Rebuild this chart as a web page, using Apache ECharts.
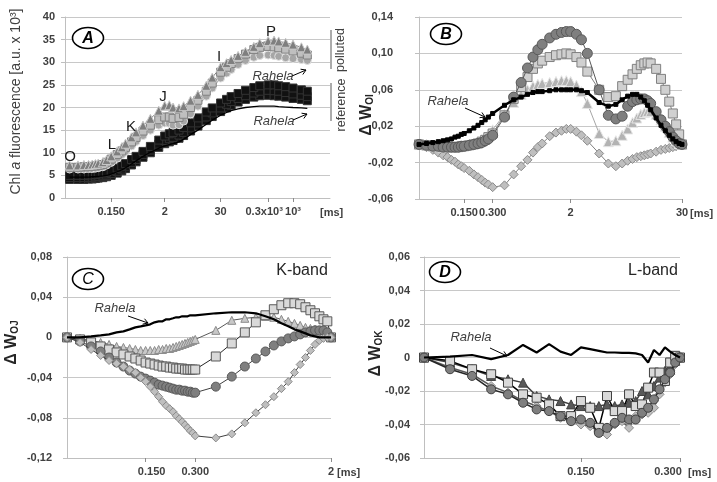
<!DOCTYPE html>
<html><head><meta charset="utf-8">
<script src="https://cdn.jsdelivr.net/npm/echarts@6/dist/echarts.min.js"></script>
<style>html,body{margin:0;padding:0;background:#fff}#c{width:717px;height:482px}</style>
</head><body><div id="c"></div>
<script>
// ---------- Panel A: OJIP transients (time in ms) ----------
const tA = [0.02,0.03,0.04,0.05,0.06,0.07,0.08,0.1,0.12,0.15,0.2,0.25,0.3,0.4,0.5,0.7,1,1.5,2,2.5,3,4,5,7,10,15,20,30,40,50,70,100,150,200,300,400,500,700,1000,1500,2000];
const aPolTriangle = [7.2,7.2,7.3,7.3,7.4,7.5,7.6,7.9,8.4,9.2,10.3,11.2,12.0,13.4,14.5,16.0,17.5,19.3,20.4,20.5,20.0,19.8,20.3,21.5,22.8,24.8,26.6,28.9,29.8,30.5,31.4,32.3,33.4,34.2,34.7,34.8,34.6,34.3,33.9,33.3,32.8];
const aPolSquare = [6.8,6.8,6.9,6.9,7.0,7.1,7.2,7.4,7.9,8.6,9.6,10.4,11.2,12.4,13.4,14.8,16.1,17.3,17.9,17.9,17.6,17.8,18.5,20.0,21.6,23.6,25.4,27.8,28.9,29.7,30.8,31.8,32.8,33.3,33.5,33.4,33.2,32.9,32.5,32.0,31.6];
const aPolCircle = [6.4,6.4,6.4,6.5,6.5,6.6,6.7,6.9,7.3,7.9,8.8,9.6,10.3,11.5,12.5,13.8,15.0,16.1,16.6,16.5,16.1,16.2,17.0,18.6,20.3,22.5,24.3,26.5,27.6,28.4,29.5,30.4,31.1,31.5,31.6,31.5,31.3,31.0,30.8,30.6,30.4];
const aRef1 = [5.0,5.0,5.0,5.1,5.1,5.2,5.3,5.5,5.7,6.0,6.6,7.1,7.6,8.5,9.2,10.3,11.4,12.8,13.7,14.2,14.5,15.0,15.6,16.6,17.7,19.0,19.9,21.0,21.8,22.4,23.1,23.8,24.4,24.8,25.0,25.0,24.8,24.6,24.3,23.9,23.6];
const aRef2 = [4.5,4.5,4.5,4.6,4.6,4.7,4.8,4.9,5.1,5.4,5.9,6.4,6.9,7.8,8.5,9.6,10.6,11.9,12.7,13.1,13.4,13.9,14.5,15.5,16.6,17.9,18.8,19.9,20.7,21.3,22.0,22.6,23.2,23.6,23.8,23.7,23.6,23.3,23.0,22.7,22.4];
const aRef3 = [4.1,4.1,4.1,4.2,4.2,4.3,4.4,4.5,4.7,5.0,5.5,6.0,6.5,7.3,8.0,9.0,10.0,11.2,12.0,12.4,12.7,13.2,13.8,14.8,15.9,17.1,18.0,19.1,19.9,20.5,21.2,21.8,22.3,22.6,22.7,22.6,22.5,22.3,22.0,21.8,21.5];
const aRefRahela = [4.6,4.6,4.6,4.6,4.7,4.7,4.8,4.9,5.0,5.3,5.8,6.2,6.7,7.5,8.2,9.2,10.1,11.0,11.5,11.8,12.0,12.4,13.0,14.0,15.0,16.3,17.2,18.3,18.9,19.3,19.7,20.0,20.2,20.3,20.3,20.3,20.2,20.1,20.0,19.9,19.8];
const xTicksA = [0.15, 2, 30, 300, 1000];
const xTextA = ['0.150', '2', '30', '0.3x10³', '10³'];
const phaseLetters = ['O', 'L', 'K', 'J', 'I', 'P'];

// ---------- Panel B: ΔW_OI ----------
const tB = [0.05,0.06,0.07,0.08,0.09,0.1,0.11,0.12,0.13,0.14,0.15,0.17,0.19,0.21,0.23,0.25,0.27,0.3,0.4,0.5,0.6,0.7,0.8,0.9,1,1.2,1.4,1.6,1.8,2,2.3,2.6,3,4,5,6,7,8,9,10,11,12,13,14,16,18,20,22,24,26,28,30];
const bRahela = [0,0.001,0.002,0.003,0.004,0.005,0.006,0.008,0.009,0.011,0.012,0.015,0.018,0.021,0.024,0.027,0.030,0.034,0.043,0.049,0.052,0.055,0.057,0.058,0.058,0.059,0.060,0.060,0.060,0.060,0.060,0.059,0.057,0.046,0.042,0.044,0.049,0.053,0.055,0.055,0.052,0.048,0.043,0.038,0.029,0.021,0.015,0.010,0.006,0.003,0.001,0];
const bCircle = [0,-0.001,-0.002,-0.002,-0.003,-0.003,-0.003,-0.003,-0.003,-0.002,-0.002,-0.001,0,0.001,0.002,0.004,0.006,0.010,0.030,0.052,0.068,0.084,0.096,0.104,0.110,0.117,0.121,0.123,0.124,0.124,0.121,0.115,0.100,0.060,0.032,0.028,0.031,0.042,0.047,0.049,0.050,0.050,0.048,0.045,0.036,0.027,0.020,0.014,0.008,0.004,0.001,0];
const bSquare = [0,-0.001,-0.002,-0.002,-0.003,-0.003,-0.003,-0.003,-0.003,-0.002,-0.002,-0.001,0,0.001,0.003,0.005,0.008,0.012,0.032,0.050,0.063,0.074,0.083,0.089,0.092,0.096,0.098,0.099,0.100,0.099,0.096,0.090,0.080,0.060,0.052,0.053,0.064,0.071,0.077,0.083,0.087,0.089,0.090,0.089,0.083,0.072,0.060,0.047,0.034,0.022,0.011,0];
const bTriangle = [0,-0.001,-0.002,-0.002,-0.003,-0.003,-0.003,-0.003,-0.002,-0.002,-0.001,0,0.001,0.003,0.005,0.008,0.011,0.016,0.033,0.046,0.055,0.060,0.064,0.066,0.067,0.068,0.069,0.070,0.070,0.069,0.065,0.058,0.045,0.012,0.003,0.004,0.010,0.017,0.024,0.029,0.033,0.035,0.036,0.036,0.033,0.027,0.020,0.013,0.008,0.004,0.001,0];
const bDiamond = [0,-0.003,-0.006,-0.009,-0.012,-0.014,-0.017,-0.019,-0.022,-0.024,-0.026,-0.029,-0.033,-0.036,-0.039,-0.042,-0.044,-0.047,-0.045,-0.033,-0.024,-0.017,-0.009,-0.003,0.001,0.009,0.013,0.015,0.017,0.017,0.014,0.010,0.004,-0.010,-0.021,-0.024,-0.021,-0.018,-0.016,-0.014,-0.013,-0.012,-0.011,-0.010,-0.008,-0.006,-0.005,-0.004,-0.003,-0.002,-0.001,0];
const xTicksB = [0.15, 0.3, 2, 30];
const xTextB = ['0.150', '0.300', '2', '30'];

// ---------- Panel C: ΔW_OJ (K-band) ----------
const tC = [0.05,0.06,0.07,0.08,0.09,0.1,0.11,0.12,0.13,0.14,0.15,0.16,0.17,0.18,0.19,0.2,0.21,0.22,0.23,0.24,0.25,0.26,0.27,0.28,0.29,0.3,0.4,0.5,0.6,0.7,0.8,0.9,1,1.1,1.2,1.3,1.4,1.5,1.6,1.7,1.8,1.9,2];
const cRahela = [0,0,0.001,0.002,0.003,0.005,0.006,0.008,0.010,0.011,0.012,0.013,0.015,0.016,0.016,0.018,0.018,0.019,0.020,0.020,0.021,0.021,0.021,0.022,0.022,0.022,0.024,0.025,0.025,0.024,0.021,0.018,0.014,0.011,0.008,0.006,0.004,0.002,0.001,0,0,0,0];
const cCircle = [0,-0.004,-0.009,-0.014,-0.020,-0.025,-0.029,-0.033,-0.036,-0.039,-0.041,-0.043,-0.045,-0.047,-0.048,-0.049,-0.050,-0.051,-0.052,-0.052,-0.053,-0.053,-0.054,-0.054,-0.055,-0.055,-0.049,-0.039,-0.029,-0.021,-0.014,-0.008,-0.004,-0.001,0.001,0.003,0.005,0.006,0.007,0.007,0.007,0.005,0];
const cSquare = [0,-0.002,-0.005,-0.009,-0.012,-0.015,-0.017,-0.019,-0.021,-0.023,-0.025,-0.026,-0.027,-0.028,-0.029,-0.029,-0.030,-0.030,-0.031,-0.031,-0.031,-0.032,-0.032,-0.032,-0.032,-0.032,-0.019,-0.006,0.005,0.015,0.022,0.028,0.032,0.034,0.034,0.033,0.030,0.027,0.024,0.021,0.018,0.016,0];
const cTriangle = [0,-0.001,-0.003,-0.005,-0.007,-0.009,-0.010,-0.011,-0.012,-0.013,-0.013,-0.013,-0.013,-0.012,-0.012,-0.011,-0.011,-0.010,-0.009,-0.008,-0.007,-0.006,-0.005,-0.004,-0.003,-0.002,0.007,0.017,0.019,0.020,0.021,0.020,0.018,0.016,0.014,0.012,0.010,0.009,0.008,0.006,0.004,0.002,0];
const cDiamond = [0,-0.005,-0.012,-0.018,-0.023,-0.026,-0.029,-0.032,-0.035,-0.040,-0.044,-0.049,-0.054,-0.059,-0.064,-0.068,-0.071,-0.074,-0.078,-0.081,-0.084,-0.087,-0.090,-0.093,-0.095,-0.098,-0.100,-0.096,-0.085,-0.075,-0.067,-0.059,-0.051,-0.044,-0.035,-0.027,-0.020,-0.013,-0.007,-0.003,-0.001,0,0];
const xTicksC = [0.15, 0.3, 2];
const xTextC = ['0.150', '0.300', '2'];

// ---------- Panel D: ΔW_OK (L-band) ----------
const tD = [0.05,0.06,0.07,0.08,0.09,0.1,0.11,0.12,0.13,0.14,0.15,0.16,0.17,0.18,0.19,0.2,0.21,0.22,0.23,0.24,0.25,0.26,0.27,0.28,0.29,0.3];
const dRahela = [0,0.0005,0.0015,-0.001,0.0015,0.0075,0.003,0.008,0.0035,0.0015,0.006,0.005,0.004,0.003,0.003,0.0028,0.0028,0.0025,0.0015,-0.003,0.0045,0.0015,0.006,0.0035,0.0015,0];
const dCircle = [0,-0.007,-0.011,-0.019,-0.022,-0.027,-0.031,-0.032,-0.035,-0.038,-0.037,-0.039,-0.045,-0.042,-0.039,-0.036,-0.037,-0.037,-0.033,-0.030,-0.025,-0.019,-0.013,-0.009,-0.003,0];
const dSquare = [0,-0.002,-0.007,-0.010,-0.015,-0.022,-0.024,-0.028,-0.035,-0.035,-0.026,-0.030,-0.042,-0.023,-0.032,-0.032,-0.022,-0.029,-0.028,-0.018,-0.009,-0.009,-0.014,-0.003,0.001,0];
const dTriangle = [0,-0.003,-0.007,-0.011,-0.013,-0.015,-0.023,-0.025,-0.026,-0.028,-0.029,-0.029,-0.029,-0.028,-0.029,-0.028,-0.027,-0.026,-0.020,-0.022,-0.017,-0.012,-0.008,-0.005,-0.002,0];
const dDiamond = [0,-0.006,-0.010,-0.017,-0.021,-0.026,-0.029,-0.032,-0.036,-0.038,-0.040,-0.041,-0.044,-0.046,-0.040,-0.038,-0.042,-0.035,-0.034,-0.033,-0.030,-0.022,-0.015,-0.010,-0.004,0];
const xTicksD = [0.15, 0.3];
const xTextD = ['0.150', '0.300'];

// ---------- build ----------
const FONT = 'Liberation Sans, Arial, sans-serif';
const LBL = {fontFamily: FONT, fontSize: 11, fontWeight: 'bold', color: '#404040'};
const pts = (t, v) => t.map((x, i) => [x, v[i]]);

function S(g, t, v, sym, size, fill, border, lineColor, lineWidth, z) {
  return {
    type: 'line', xAxisIndex: g, yAxisIndex: g, data: pts(t, v),
    symbol: sym, symbolSize: size, showAllSymbol: true, clip: false,
    itemStyle: {color: fill, borderColor: border, borderWidth: 1},
    lineStyle: {color: lineColor, width: lineWidth},
    z: z, silent: true, animation: false, emphasis: {disabled: true}
  };
}

// nudge: {labelIndex: [padTop, padRight, padBottom, padLeft]} to offset a label as in the reference
function fmtX(vals, txts, nudge) {
  return function (v) {
    for (let i = 0; i < vals.length; i++) {
      if (Math.abs(v / vals[i] - 1) < 1e-6) {
        return nudge[i] ? '{p' + i + '|' + txts[i] + '}' : txts[i];
      }
    }
    return '';
  };
}
function xAx(g, min, max, vals, txts, nameGap, nudge) {
  const rich = {};
  Object.keys(nudge).forEach(k => { rich['p' + k] = Object.assign({padding: nudge[k]}, LBL); });
  return {
    type: 'log', logBase: 10, gridIndex: g, min: min, max: max,
    axisLine: {show: true, onZero: false, lineStyle: {color: '#bfbfbf', width: 1}},
    axisTick: {show: true, customValues: vals, length: 4, lineStyle: {color: '#8c8c8c'}},
    axisLabel: Object.assign({customValues: vals, margin: 8, showMinLabel: true, showMaxLabel: true, hideOverlap: false,
      formatter: fmtX(vals, txts, nudge), rich: rich}, LBL),
    splitLine: {show: false}, minorTick: {show: false}, minorSplitLine: {show: false},
    name: '[ms]', nameLocation: 'end', nameGap: nameGap, nameMoveOverlap: false,
    nameTextStyle: Object.assign({verticalAlign: 'top', align: 'left', padding: [9, 0, 0, 0]}, LBL)
  };
}
const fmtComma = v => (Math.abs(v) < 1e-9 ? '0' : v.toFixed(2).replace('.', ','));
function yAx(g, min, max, interval, fmt, margin, name, nameGap, rich, namePad) {
  return {
    type: 'value', gridIndex: g, min: min, max: max, interval: interval,
    axisLine: {show: true, lineStyle: {color: '#bfbfbf'}},
    axisTick: {show: true, length: 4, lineStyle: {color: '#bfbfbf'}},
    axisLabel: Object.assign({formatter: fmt, margin: margin}, LBL),
    splitLine: {show: true, lineStyle: {color: '#c8c8c8', width: 1}},
    name: name, nameLocation: 'middle', nameGap: nameGap, nameRotate: 90, nameMoveOverlap: false,
    nameTextStyle: {rich: rich, padding: namePad}
  };
}
const subRich = {
  d: {fontFamily: FONT, fontSize: 16, fontWeight: 'bold', color: '#262626'},
  s: {fontFamily: FONT, fontSize: 10, fontWeight: 'bold', color: '#262626', verticalAlign: 'bottom', padding: [6, 0, 0, 0]}
};
const aRich = {
  n: {fontFamily: FONT, fontSize: 14, color: '#404040'},
  i: {fontFamily: FONT, fontSize: 14, fontStyle: 'italic', color: '#404040'}
};

const series = [
  // A: reference (black) then polluted (grey)
  S(0, tA, aRef3, 'rect', 8, '#111', '#333', '#111', 1, 2),
  S(0, tA, aRef2, 'rect', 8, '#111', '#333', '#111', 1, 2),
  S(0, tA, aRef1, 'rect', 8, '#111', '#333', '#111', 1, 2),
  S(0, tA, aRefRahela, 'none', 0, '#000', '#000', '#000', 1.3, 3),
  S(0, tA, aPolCircle, 'circle', 8, '#a6a6a6', '#e0e0e0', '#8c8c8c', 1, 4),
  S(0, tA, aPolSquare, 'rect', 8, '#bfbfbf', '#808080', '#808080', 1, 4),
  S(0, tA, aPolTriangle, 'triangle', 9, '#7f7f7f', '#c8c8c8', '#7f7f7f', 1, 4),
  // B
  S(1, tB, bDiamond, 'diamond', 9, '#bfbfbf', '#8c8c8c', '#808080', 1, 2),
  S(1, tB, bTriangle, 'triangle', 10, '#b3b3b3', '#e6e6e6', '#a6a6a6', 1, 3),
  S(1, tB, bSquare, 'rect', 9, '#d0d0d0', '#808080', '#808080', 1, 3),
  S(1, tB, bCircle, 'circle', 10, '#7f7f7f', '#595959', '#595959', 1, 4),
  S(1, tB, bRahela, 'rect', 4, '#000', '#000', '#000', 2.5, 5),
  // C
  S(2, tC, cTriangle, 'triangle', 8, '#c8c8c8', '#8c8c8c', '#595959', 1, 2),
  S(2, tC, cSquare, 'rect', 9, '#d9d9d9', '#595959', '#262626', 1, 3),
  S(2, tC, cCircle, 'circle', 9, '#7f7f7f', '#595959', '#404040', 1, 3),
  S(2, tC, cDiamond, 'diamond', 8, '#bfbfbf', '#8c8c8c', '#404040', 1, 4),
  S(2, tC, cRahela, 'none', 0, '#000', '#000', '#000', 2.2, 5),
  // D
  S(3, tD, dDiamond, 'diamond', 9, '#bfbfbf', '#8c8c8c', '#595959', 1.5, 2),
  S(3, tD, dTriangle, 'triangle', 9, '#595959', '#404040', '#404040', 1.5, 3),
  S(3, tD, dSquare, 'rect', 9, '#d9d9d9', '#404040', '#000', 1.5, 3),
  S(3, tD, dCircle, 'circle', 9, '#7f7f7f', '#404040', '#262626', 1.5, 4),
  S(3, tD, dRahela, 'none', 0, '#000', '#000', '#000', 2.2, 5)
];

// ---------- annotations ----------
const G = [];
function txt(x, y, s, size, opt) {
  G.push(Object.assign({type: 'text', x: x, y: y, z: 100,
    style: Object.assign({text: s, fontFamily: FONT, fontSize: size, fill: '#262626', align: 'center', verticalAlign: 'middle'}, opt && opt.style || {})},
    opt && opt.el || {}));
}
function badge(cx, cy, letter, weight) {
  G.push({type: 'ellipse', z: 100, shape: {cx: cx, cy: cy, rx: 15.5, ry: 10.5}, style: {fill: '#fff', stroke: '#000', lineWidth: 1.6}});
  txt(cx, cy + 0.5, letter, 16, {style: {fontStyle: 'italic', fontWeight: weight, fill: '#000'}});
}
function arrow(x1, y1, x2, y2) {
  const a = Math.atan2(y2 - y1, x2 - x1), L = 5.5, w = 0.55;
  G.push({type: 'line', z: 100, shape: {x1: x1, y1: y1, x2: x2, y2: y2}, style: {stroke: '#000', lineWidth: 1}});
  G.push({type: 'polyline', z: 100, shape: {points: [
    [x2 - L * Math.cos(a - w), y2 - L * Math.sin(a - w)], [x2, y2], [x2 - L * Math.cos(a + w), y2 - L * Math.sin(a + w)]]},
    style: {stroke: '#000', fill: null, lineWidth: 1}});
}
const rah = {style: {fontStyle: 'italic', fill: '#404040'}};

badge(88, 38, 'A', 'bold');
badge(446, 34, 'B', 'bold');
badge(88, 279, 'C', 'normal');
badge(445, 272, 'D', 'bold');

const phasePos = [[70, 157], [112, 145], [131, 127], [163, 97], [219, 57], [271, 32]];
phaseLetters.forEach((s, i) => txt(phasePos[i][0], phasePos[i][1], s, 15, {style: {fill: '#1a1a1a'}}));

txt(273, 76, 'Rahela', 13, rah); arrow(292, 76, 306, 70);
txt(274, 121, 'Rahela', 13, rah); arrow(293, 120, 307, 114);
txt(448, 101, 'Rahela', 13, rah); arrow(465, 108, 485, 117);
txt(115, 308, 'Rahela', 13, rah); arrow(128, 316, 148, 323);
txt(471, 337, 'Rahela', 13, rah); arrow(490, 348, 507, 356);

G.push({type: 'line', z: 100, shape: {x1: 331, y1: 30, x2: 331, y2: 69}, style: {stroke: '#595959', lineWidth: 1}});
G.push({type: 'line', z: 100, shape: {x1: 331, y1: 83, x2: 331, y2: 121}, style: {stroke: '#595959', lineWidth: 1}});
txt(341, 50, 'polluted', 12.5, {style: {fill: '#404040'}, el: {rotation: Math.PI / 2}});
txt(342, 105, 'reference', 12.5, {style: {fill: '#404040'}, el: {rotation: Math.PI / 2}});

txt(302, 271, 'K-band', 16, {style: {fill: '#262626'}});
txt(653, 271, 'L-band', 16, {style: {fill: '#262626'}});

const option = {
  animation: false,
  backgroundColor: '#fff',
  grid: [
    {left: 65, top: 17, width: 265, height: 181},
    {left: 419, top: 17, width: 263, height: 182},
    {left: 67, top: 257, width: 264, height: 201},
    {left: 424, top: 257, width: 256, height: 201}
  ],
  xAxis: [
    xAx(0, 0.016, 6000, xTicksA, xTextA, -10, {3: [0, 8, 0, 0]}),
    xAx(1, 0.05, 30, xTicksB, xTextB, 8, {}),
    xAx(2, 0.05, 2, xTicksC, xTextC, 6, {0: [0, 0, 0, 12]}),
    xAx(3, 0.05, 0.3, xTicksD, xTextD, 8, {1: [0, 24, 0, 0]})
  ],
  yAxis: [
    yAx(0, 0, 40, 5, v => String(Math.round(v)), 10, '{n|Chl }{i|a}{n| fluorescence [a.u. x 10³]}', 42, aRich, [0, 0, 0, 12]),
    yAx(1, -0.06, 0.14, 0.04, fmtComma, 26, '{d|Δ W}{s|OI}', 44, subRich, [0, 14, 0, 0]),
    yAx(2, -0.12, 0.08, 0.04, fmtComma, 15, '{d|Δ W}{s|OJ}', 47, subRich, [0, 0, 0, 30]),
    yAx(3, -0.06, 0.06, 0.02, fmtComma, 14, '{d|Δ W}{s|OK}', 40, subRich, [0, 0, 0, 8])
  ],
  series: series,
  graphic: {elements: G}
};
const chart = echarts.init(document.getElementById('c'), null, {renderer: 'canvas', width: 717, height: 482});
chart.setOption(option);
</script></body></html>
